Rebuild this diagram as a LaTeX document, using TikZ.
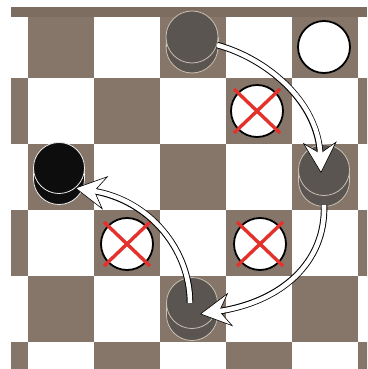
\documentclass[tikz,border=0pt]{standalone}
\usetikzlibrary{arrows.meta}
\definecolor{brd}{HTML}{86766A}
\definecolor{stripc}{HTML}{7D6D61}
\definecolor{ghost}{HTML}{5A5550}
\definecolor{ghostline}{HTML}{C9BFB3}
\definecolor{xred}{HTML}{E2322B}
\tikzset{
  ghostfill/.style={fill=ghost},
  ghostedge/.style={draw=ghostline, line width=0.8pt},
  blackfill/.style={fill=black!95},
  blackedge/.style={draw=white!85!gray, line width=0.8pt},
  whitepc/.style={fill=white, draw=black, line width=1.8pt},
  capt/.style={fill=white, draw=black, line width=1.8pt},
  xline/.style={draw=xred, line width=3.4pt},
  shaftout/.style={draw=black, line width=6.5pt},
  shaftin/.style={draw=white, line width=4.6pt},
  tipline/.style={draw=black, line width=0.6pt, -{Stealth[length=31pt,width=34pt,inset=11pt,fill=white]}}
}
\newcommand{\cylpc}[6]{% x y R h fill edge
  \path[#5,#6] (#1,#2+#4) circle[radius=#3];
  \path[#5] (#1-#3,#2) rectangle (#1+#3,#2+#4);
  \path[#6] (#1-#3,#2) -- (#1-#3,#2+#4) (#1+#3,#2) -- (#1+#3,#2+#4);
  \path[#5,#6] (#1,#2) circle[radius=#3];
}
\begin{document}
\begin{tikzpicture}[x=1pt,y=-1pt]
\useasboundingbox (0,0) rectangle (367,369);
\fill[white] (0,0) rectangle (367,369);
% board
\begin{scope}
\clip (11,7) rectangle (367,369);
\foreach \c in {0,...,6}{
  \foreach \r in {1,...,6}{
    \pgfmathtruncatemacro\parity{mod(\c+\r,2)}
    \ifnum\parity=0
      \fill[brd] ({28+66*(\c-1)},{12+66*(\r-1)}) rectangle +(66,66);
    \fi
  }
}
\fill[stripc] (11,7) rectangle (367,17);
\end{scope}
% pieces
\coordinate (pA) at (192,37);
\coordinate (pB) at (324,170);
\coordinate (pC) at (192,303);
\coordinate (pK) at (59,168);
\coordinate (pW) at (324,47);
\cylpc{192}{37}{26}{10}{ghostfill}{ghostedge}
\cylpc{324}{170}{25.5}{11}{ghostfill}{ghostedge}
\cylpc{192}{303}{25.5}{12}{ghostfill}{ghostedge}
\cylpc{59}{168}{25.5}{11}{blackfill}{blackedge}
\path[whitepc] (pW) circle[radius=26];
% captured pieces
\foreach \nm/\x/\y in {x1/257/111, x2/127/244, x3/260/244}{
  \coordinate (\nm) at (\x,\y);
  \path[capt] (\nm) circle[radius=26];
  \path[xline] (\x-23,\y-22) -- (\x+23,\y+22);
  \path[xline] (\x+23,\y-22) -- (\x-23,\y+22);
}
% arrows
\coordinate (a1s) at (217,45);
\coordinate (a1e) at (321,173);
\coordinate (a2s) at (324,205);
\coordinate (a2e) at (200,314);
\coordinate (a3s) at (190,303);
\coordinate (a3e) at (75,188);
\foreach \s/\p/\q/\e in {a1s/{265,58}/{318,100}/a1e, a2s/{326,262}/{282,302}/a2e, a3s/{190,250}/{150,200}/a3e}{
  \path[shaftout, shorten >=17pt] (\s) .. controls (\p) and (\q) .. (\e);
  \path[tipline] (\s) .. controls (\p) and (\q) .. (\e);
  \path[shaftin, shorten >=18.5pt] (\s) .. controls (\p) and (\q) .. (\e);
}
\end{tikzpicture}
\end{document}
